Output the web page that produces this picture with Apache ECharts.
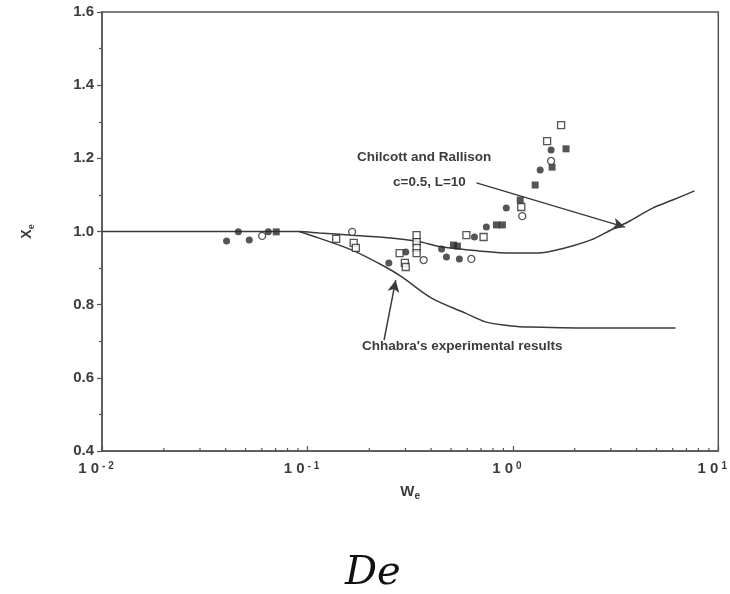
<!DOCTYPE html>
<html>
<head>
<meta charset="utf-8">
<script src="https://cdn.jsdelivr.net/npm/echarts@6/dist/echarts.min.js"></script>
<style>
  html, body { margin: 0; padding: 0; background: #fff; }
  #chart { width: 730px; height: 594px; }
</style>
</head>
<body>
<div id="chart"></div>
<script>
// Theory curve (Chilcott and Rallison, c=0.5, L=10): [We, Xe]
const theoryCurve = [
  [0.01, 1.0], [0.0912, 1.0], [0.114, 0.996], [0.165, 0.99], [0.223, 0.985],
  [0.337, 0.974], [0.45, 0.958], [0.679, 0.947], [0.981, 0.941], [1.33, 0.941],
  [1.79, 0.955], [2.40, 0.977], [3.00, 1.004], [3.63, 1.026], [4.79, 1.064],
  [5.99, 1.086], [7.66, 1.111]
];

// Chhabra's experimental curve: [We, Xe]
const chhabraCurve = [
  [0.0912, 1.0], [0.114, 0.982], [0.165, 0.949], [0.24, 0.903], [0.288, 0.876],
  [0.402, 0.818], [0.587, 0.777], [0.735, 0.753], [0.981, 0.742], [1.23, 0.739],
  [2.59, 0.736], [6.19, 0.736]
];

// Measured points by marker type: [We, Xe]
const filledCircles = [
  [0.0404, 0.974], [0.0461, 0.999], [0.0521, 0.977], [0.0645, 0.999],
  [0.249, 0.914], [0.301, 0.944], [0.45, 0.952], [0.475, 0.93], [0.549, 0.925],
  [0.65, 0.985], [0.743, 1.012], [0.929, 1.064], [1.358, 1.168], [1.535, 1.223]
];
const openSquares = [
  [0.138, 0.98], [0.168, 0.969], [0.172, 0.955], [0.281, 0.941], [0.298, 0.914],
  [0.301, 0.903], [0.34, 0.99], [0.34, 0.971], [0.34, 0.955], [0.34, 0.941],
  [0.594, 0.99], [0.72, 0.985], [1.099, 1.067], [1.468, 1.247], [1.717, 1.291]
];
const filledSquares = [
  [0.0705, 0.999], [0.514, 0.963], [0.537, 0.96], [0.832, 1.018], [0.889, 1.018],
  [1.086, 1.086], [1.284, 1.127], [1.552, 1.176], [1.815, 1.226]
];
const openCircles = [
  [0.0602, 0.988], [0.165, 0.999], [0.368, 0.922], [0.628, 0.925],
  [1.111, 1.042], [1.535, 1.193]
];

// Minor log ticks (2..9 per decade) on the We axis
const minorTicksX = [
  0.02, 0.03, 0.04, 0.05, 0.06, 0.07, 0.08, 0.09,
  0.2, 0.3, 0.4, 0.5, 0.6, 0.7, 0.8, 0.9,
  2, 3, 4, 5, 6, 7, 8, 9
];

// Annotation arrows: [tail, head] in data coordinates
const theoryArrow = [[0.665, 1.133], [3.51, 1.012]];
const chhabraArrow = [[0.236, 0.703], [0.269, 0.867]];

const ink = '#3a3a3a';
const axisInk = '#555';
const textInk = '#3c3c3c';

const chart = echarts.init(document.getElementById('chart'), null, { renderer: 'canvas' });

const markerBase = { type: 'scatter', z: 4, symbolSize: 7 };

chart.setOption({
  animation: false,
  backgroundColor: '#fff',
  grid: {
    left: 102, right: 9, top: 12, bottom: 143,
    show: true, borderColor: axisInk, borderWidth: 1.5, backgroundColor: 'transparent'
  },
  xAxis: {
    type: 'log', logBase: 10, min: 0.01, max: 10,
    name: '{w|W}{s|e}', nameLocation: 'middle', nameGap: 32,
    nameTextStyle: {
      rich: {
        w: { fontFamily: 'Liberation Sans', fontWeight: 'bold', fontSize: 15, color: textInk },
        s: { fontFamily: 'Liberation Sans', fontWeight: 'bold', fontSize: 10, color: textInk, verticalAlign: 'bottom', padding: [8, 0, 0, 0] }
      }
    },
    axisLine: { show: true, lineStyle: { color: axisInk, width: 1.5 } },
    axisTick: { show: true, inside: true, length: 5, lineStyle: { color: axisInk, width: 1.2 } },
    splitLine: { show: false },
    axisLabel: {
      margin: 10,
      padding: [0, 12, 0, 0],
      formatter: function (v) {
        const e = Math.round(Math.log10(v));
        return '{b|1 0}{s|' + (e < 0 ? '- ' + (-e) : String(e)) + '}';
      },
      rich: {
        b: { fontFamily: 'Liberation Sans', fontSize: 15, color: textInk, fontWeight: 'bold' },
        s: { fontFamily: 'Liberation Sans', fontSize: 10, color: textInk, fontWeight: 'bold', verticalAlign: 'top', padding: [0, 0, 6, 3] }
      }
    }
  },
  yAxis: {
    type: 'value', min: 0.4, max: 1.6, interval: 0.2,
    name: '{x|X}{s|e}', nameLocation: 'middle', nameGap: 66, nameRotate: 90,
    nameTextStyle: {
      rich: {
        x: { fontFamily: 'Liberation Sans', fontWeight: 'bold', fontSize: 14, color: textInk },
        s: { fontFamily: 'Liberation Sans', fontWeight: 'bold', fontSize: 9, color: textInk, padding: [8, 0, 0, 0] }
      }
    },
    axisLine: { show: true, lineStyle: { color: axisInk, width: 1.5 } },
    axisTick: { show: true, inside: false, length: 5, lineStyle: { color: axisInk, width: 1.2 } },
    minorTick: { show: true, splitNumber: 2, length: 3, lineStyle: { color: axisInk, width: 1.2 } },
    splitLine: { show: false },
    axisLabel: {
      margin: 8,
      fontFamily: 'Liberation Sans', fontWeight: 'bold', fontSize: 15, color: textInk,
      formatter: function (v) { return v.toFixed(1); }
    }
  },
  graphic: [
    { type: 'text', left: 357, top: 150, style: { text: 'Chilcott and Rallison', font: 'bold 13.5px "Liberation Sans"', fill: textInk } },
    { type: 'text', left: 393, top: 175, style: { text: 'c=0.5, L=10', font: 'bold 13.5px "Liberation Sans"', fill: textInk } },
    { type: 'text', left: 362, top: 339, style: { text: "Chhabra's experimental results", font: 'bold 13.5px "Liberation Sans"', fill: textInk } },
    { type: 'text', left: 345, top: 554, style: { text: 'De', font: 'italic 40px "DejaVu Serif"', fill: '#111' } }
  ],
  series: [
    {
      type: 'line', data: theoryCurve, showSymbol: false, smooth: 0.3, z: 3,
      lineStyle: { color: ink, width: 1.5 },
      markLine: {
        silent: true, symbol: ['none', 'arrow'], symbolSize: [9, 12],
        label: { show: false },
        lineStyle: { color: ink, width: 1.5, type: 'solid' },
        data: [
          [{ coord: theoryArrow[0] }, { coord: theoryArrow[1] }],
          [{ coord: chhabraArrow[0] }, { coord: chhabraArrow[1] }]
        ]
      }
    },
    {
      type: 'line', data: chhabraCurve, showSymbol: false, smooth: 0.3, z: 3,
      lineStyle: { color: ink, width: 1.5 }
    },
    Object.assign({}, markerBase, { data: filledCircles, symbol: 'circle', itemStyle: { color: '#2a2a2a' } }),
    Object.assign({}, markerBase, { data: openSquares, symbol: 'rect', itemStyle: { color: '#fff', borderColor: '#2a2a2a', borderWidth: 1.3 } }),
    Object.assign({}, markerBase, { data: filledSquares, symbol: 'rect', itemStyle: { color: '#2a2a2a' } }),
    Object.assign({}, markerBase, { data: openCircles, symbol: 'circle', itemStyle: { color: '#fff', borderColor: '#2a2a2a', borderWidth: 1.3 } }),
    {
      // minor log ticks drawn inward from the bottom axis
      type: 'custom', z: 5, silent: true, clip: false,
      data: minorTicksX.map(function (v) { return [v]; }),
      encode: { x: 0 },
      renderItem: function (params, api) {
        const p = api.coord([api.value(0), 0.4]);
        return {
          type: 'line',
          shape: { x1: p[0], y1: p[1], x2: p[0], y2: p[1] - 3 },
          style: { stroke: axisInk, lineWidth: 1.2 }
        };
      }
    }
  ]
});
</script>
</body>
</html>
